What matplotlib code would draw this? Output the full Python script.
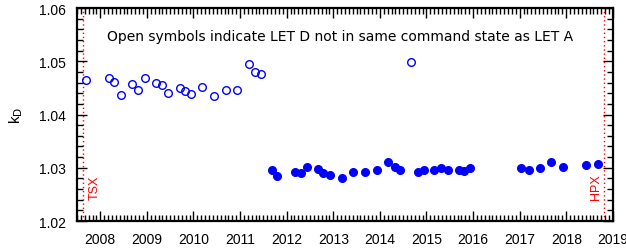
import matplotlib
matplotlib.use("Agg")
import matplotlib.pyplot as plt
from matplotlib.ticker import MultipleLocator, FixedLocator

# ── Data ─────────────────────────────────────────────────────────────────────
open_t = [2007.69, 2008.19, 2008.30, 2008.44, 2008.68, 2008.80, 2008.95,
          2009.20, 2009.32, 2009.46, 2009.70, 2009.82, 2009.95, 2010.19,
          2010.45, 2010.70, 2010.94, 2011.19, 2011.31, 2011.45, 2014.67]
open_k = [1.0465, 1.0468, 1.0461, 1.0437, 1.0457, 1.0446, 1.0469,
          1.0460, 1.0455, 1.0441, 1.0449, 1.0445, 1.0439, 1.0452,
          1.0435, 1.0446, 1.0446, 1.0495, 1.0480, 1.0476, 1.0499]

fill_t = [2011.69, 2011.80, 2012.17, 2012.30, 2012.44, 2012.68, 2012.79,
          2012.94, 2013.18, 2013.43, 2013.68, 2013.93, 2014.17, 2014.32,
          2014.43, 2014.82, 2014.95, 2015.17, 2015.31, 2015.47, 2015.69,
          2015.80, 2015.94, 2017.03, 2017.20, 2017.43, 2017.67, 2017.93,
          2018.43, 2018.68]
fill_k = [1.0296, 1.0285, 1.0293, 1.0290, 1.0302, 1.0298, 1.0291,
          1.0287, 1.0281, 1.0292, 1.0292, 1.0295, 1.0310, 1.0302,
          1.0295, 1.0293, 1.0296, 1.0296, 1.0299, 1.0296, 1.0296,
          1.0294, 1.0300, 1.0300, 1.0295, 1.0300, 1.0310, 1.0301,
          1.0305, 1.0307]

events = [2007.635, 2018.82]
event_labels = ["TSX", "HPX"]
years = list(range(2008, 2020))

# ── Plot ─────────────────────────────────────────────────────────────────────
plt.rcParams["font.family"] = ["Liberation Sans", "DejaVu Sans"]

fig = plt.figure(figsize=(6.26, 2.53), dpi=100)
ax = fig.add_axes([0.123, 0.1225, 0.856, 0.8415])

for t, lab, off, ha in zip(events, event_labels, [0.12, -0.06], ["left", "right"]):
    ax.axvline(t, color="red", linestyle=(0, (1, 2)), linewidth=1.0, zorder=1)
    ax.text(t + off, 1.0265, lab, color="red", rotation=90, fontsize=9,
            ha=ha, va="center")

ax.plot(open_t, open_k, linestyle="none", marker="o", markersize=5.5,
        markerfacecolor="none", markeredgecolor="blue", markeredgewidth=1.0)
ax.plot(fill_t, fill_k, linestyle="none", marker="o", markersize=5.5,
        color="blue")

ax.text(0.49, 0.87, "Open symbols indicate LET D not in same command state as LET A",
        transform=ax.transAxes, ha="center", va="center", fontsize=10,
        family="DejaVu Sans")

ax.set_xlim(2007.5, 2019.0)
ax.set_ylim(1.02, 1.06)
ax.xaxis.set_major_locator(FixedLocator(years))
ax.xaxis.set_minor_locator(MultipleLocator(1 / 12))
ax.yaxis.set_major_locator(MultipleLocator(0.01))
ax.yaxis.set_minor_locator(MultipleLocator(0.002))
ax.yaxis.set_major_formatter(plt.FormatStrFormatter("%.2f"))

ax.tick_params(which="both", direction="in", top=True, right=True,
               labelsize=10, width=1.0)
ax.tick_params(which="major", length=7, pad=8)
ax.tick_params(which="minor", length=4)
for s in ax.spines.values():
    s.set_linewidth(1.6)

ax.set_ylabel("k$_\\mathrm{D}$", fontsize=11, labelpad=10)

fig.savefig("out.png", dpi=100)
